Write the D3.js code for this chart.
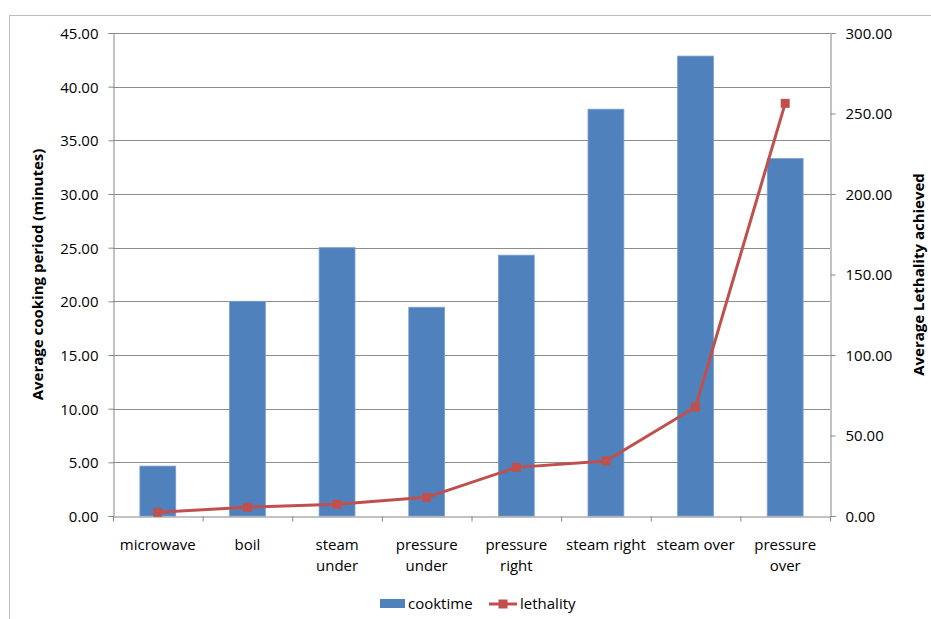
<!DOCTYPE html>
<html>
<head>
<meta charset="utf-8">
<script src="https://cdn.jsdelivr.net/npm/d3@7"></script>
<style>
  html, body { margin: 0; padding: 0; background: #fff; }
  svg { display: block; font-family: "Open Sans", sans-serif; }
</style>
</head>
<body>
<svg id="chart" width="931" height="619"></svg>
<script>
// Cooking method comparison: average cook time (bars) vs average lethality (line)
const categories = [
  ["microwave"], ["boil"], ["steam", "under"], ["pressure", "under"],
  ["pressure", "right"], ["steam right"], ["steam over"], ["pressure", "over"]
];
const cooktime = [4.65, 20.0, 25.0, 19.45, 24.3, 37.9, 42.85, 33.3];
const lethality = [2.3, 5.4, 7.3, 11.6, 30.2, 34.2, 67.7, 256.3];
const leftTicks = [0, 5, 10, 15, 20, 25, 30, 35, 40, 45];
const rightTicks = [0, 50, 100, 150, 200, 250, 300];

const svg = d3.select("#chart");
const FONT = "'Open Sans', sans-serif";
const x0 = 113, x1 = 830, yTop = 33, yBot = 516;

// outer chart frame
svg.append("rect")
  .attr("x", 9.5).attr("y", 15.5).attr("width", 1000).attr("height", 1000)
  .attr("fill", "none").attr("stroke", "#bdbdbd").attr("stroke-width", 1);

const keys = categories.map((d, i) => i);
const x = d3.scaleBand().domain(keys).range([x0, x1]).paddingInner(0).paddingOuter(0);
const yL = d3.scaleLinear().domain([0, 45]).range([yBot, yTop]);
const yR = d3.scaleLinear().domain([0, 300]).range([yBot, yTop]);

const fmt = d3.format(".2f");

// gridlines
svg.append("g")
  .selectAll("line")
  .data(leftTicks.filter(t => t > 0))
  .join("line")
  .attr("x1", x0).attr("x2", x1)
  .attr("y1", d => Math.round(yL(d)) + 0.5).attr("y2", d => Math.round(yL(d)) + 0.5)
  .attr("stroke", "#8c8c8c").attr("stroke-width", 1);

// bars
const barW = x.bandwidth() / 2.5;
svg.append("g")
  .selectAll("rect")
  .data(cooktime)
  .join("rect")
  .attr("x", (d, i) => x(i) + (x.bandwidth() - barW) / 2)
  .attr("y", d => yL(d))
  .attr("width", barW)
  .attr("height", d => yBot - yL(d))
  .attr("fill", "#4f81bd")
  .attr("stroke", "#7a9fcf").attr("stroke-width", 0.8);

// left axis
const axL = svg.append("g").attr("transform", `translate(${x0 + 0.5},0)`)
  .call(d3.axisLeft(yL).tickValues(leftTicks).tickFormat(fmt).tickSize(5).tickPadding(10));
// right axis
const axR = svg.append("g").attr("transform", `translate(${x1 + 0.5},0)`)
  .call(d3.axisRight(yR).tickValues(rightTicks).tickFormat(fmt).tickSize(5).tickPadding(10));
// bottom axis (category boundaries)
const xEdges = d3.scaleLinear().domain([0, categories.length]).range([x0, x1]);
const axB = svg.append("g").attr("transform", `translate(0,${yBot + 0.5})`)
  .call(d3.axisBottom(xEdges).tickValues(d3.range(categories.length + 1)).tickFormat("").tickSize(5).tickSizeOuter(0));

[axL, axR, axB].forEach(a => {
  a.select(".domain").attr("stroke", "#868686");
  a.selectAll(".tick line").attr("stroke", "#868686");
  a.selectAll("text").attr("font-size", 15).attr("fill", "#000").attr("font-family", FONT);
});
axL.selectAll(".tick text").attr("dy", "0.36em");
axR.selectAll(".tick text").attr("dy", "0.36em");

// category labels
const lab = svg.append("g").attr("font-size", 15).attr("text-anchor", "middle");
categories.forEach((lines, i) => {
  const cx = x(i) + x.bandwidth() / 2;
  const t = lab.append("text").attr("x", cx).attr("y", 550);
  lines.forEach((s, j) => t.append("tspan").attr("x", cx)
    .attr("dy", j === 0 ? 0 : 21).text(s));
});

// lethality line
const line = d3.line().x((d, i) => x(i) + x.bandwidth() / 2).y(d => yR(d));
svg.append("path").datum(lethality)
  .attr("d", line).attr("fill", "none").attr("stroke", "#c0504d").attr("stroke-width", 3)
  .attr("stroke-linejoin", "round");
svg.append("g").selectAll("rect")
  .data(lethality).join("rect")
  .attr("x", (d, i) => x(i) + x.bandwidth() / 2 - 4.5)
  .attr("y", d => yR(d) - 4.5)
  .attr("width", 9).attr("height", 9)
  .attr("fill", "#c0504d");

// axis titles
svg.append("text")
  .attr("transform", `translate(43,${(yTop + yBot) / 2}) rotate(-90)`)
  .attr("text-anchor", "middle").attr("font-size", 15).attr("font-weight", "bold")
  .text("Average cooking period (minutes)");
svg.append("text")
  .attr("transform", `translate(924,${(yTop + yBot) / 2}) rotate(-90)`)
  .attr("text-anchor", "middle").attr("font-size", 15).attr("font-weight", "bold")
  .text("Average Lethality achieved");

// legend
const lg = svg.append("g").attr("font-size", 15);
lg.append("rect").attr("x", 380).attr("y", 599).attr("width", 25).attr("height", 9).attr("fill", "#4f81bd");
lg.append("text").attr("x", 408).attr("y", 609).text("cooktime");
lg.append("line").attr("x1", 489).attr("x2", 517).attr("y1", 604).attr("y2", 604)
  .attr("stroke", "#c0504d").attr("stroke-width", 3);
lg.append("rect").attr("x", 498.5).attr("y", 599.5).attr("width", 9).attr("height", 9).attr("fill", "#c0504d");
lg.append("text").attr("x", 520).attr("y", 609).text("lethality");
</script>
</body>
</html>
